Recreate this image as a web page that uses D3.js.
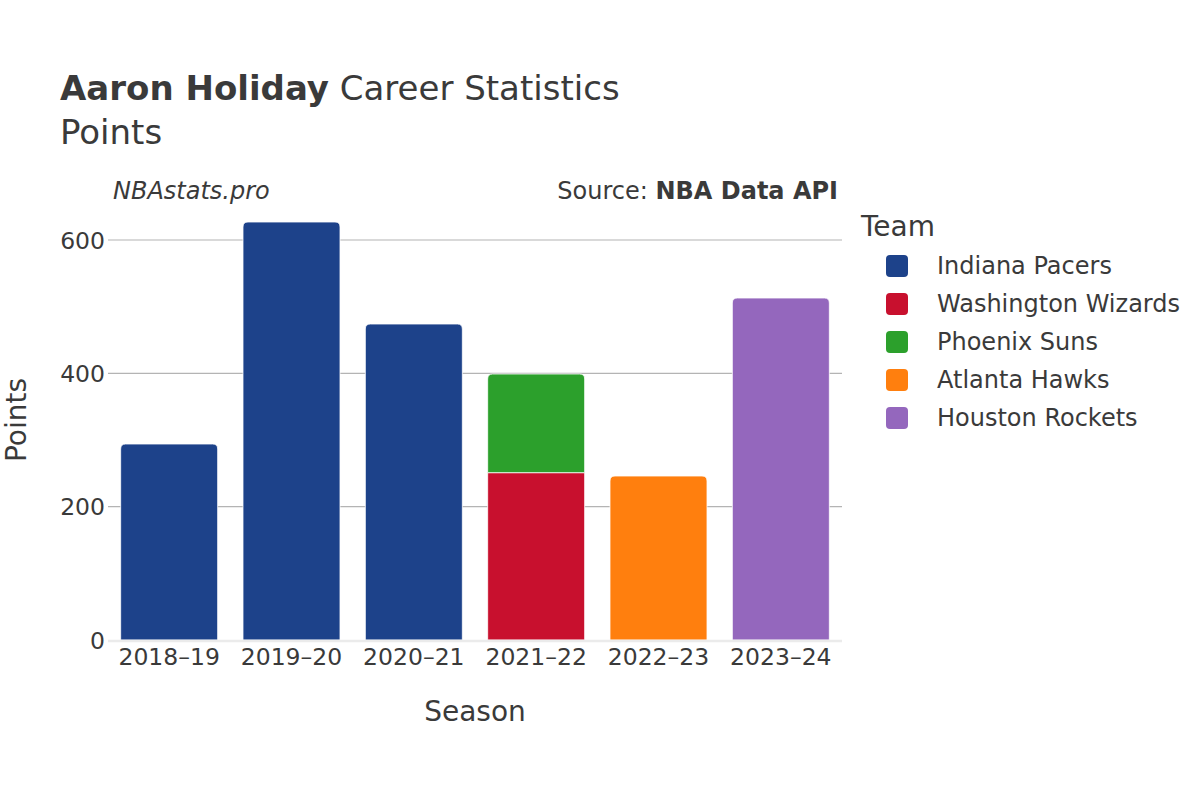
<!DOCTYPE html>
<html><head><meta charset="utf-8">
<script src="https://cdn.jsdelivr.net/npm/d3@7"></script>
<style>body{margin:0;background:#fff}svg{font-family:"DejaVu Sans",sans-serif}</style>
</head><body>
<svg id="c" width="1200" height="800"></svg>
<script>
const seasons = ["2018–19","2019–20","2020–21","2021–22","2022–23","2023–24"];
const teams = ["Indiana Pacers","Washington Wizards","Phoenix Suns","Atlanta Hawks","Houston Rockets"];
const teamColors = ["#1d428a","#c8102e","#2ca02c","#ff7f0e","#9467bd"];
const indianaPts = [294, 627, 474, 0, 0, 0];
const washingtonPts = [0, 0, 0, 251, 0, 0];
const phoenixPts = [0, 0, 0, 148, 0, 0];
const atlantaPts = [0, 0, 0, 0, 246, 0];
const houstonPts = [0, 0, 0, 0, 0, 513];
const yTicks = [0, 200, 400, 600];

const seriesVals = [indianaPts, washingtonPts, phoenixPts, atlantaPts, houstonPts];
const rows = seasons.map((s, i) => { const r = {season: s}; teams.forEach((t, j) => r[t] = seriesVals[j][i]); return r; });
const stack = d3.stack().keys(teams)(rows);

const svg = d3.select("#c");
const m = {l: 108, r: 842, t: 200, b: 640};
const x = d3.scaleBand().domain(seasons).range([m.l, m.r]).paddingInner(0.207).paddingOuter(0.1035);
const y = d3.scaleLinear().domain([0, 600]).range([m.b, 240]);
const txt = "#3a3a3a";

// gridlines
svg.append("g").selectAll("line").data(yTicks.filter(d => d > 0)).join("line")
  .attr("x1", m.l).attr("x2", m.r).attr("y1", d => y(d)).attr("y2", d => y(d))
  .attr("stroke", "#b4b4b4").attr("stroke-width", 1.2);

// bars
const color = d3.scaleOrdinal().domain(teams).range(teamColors);
function topIndex(i) { let k = -1; stack.forEach((s, j) => { if (s[i][1] - s[i][0] > 0) k = j; }); return k; }
const rr = 5;
stack.forEach((s, j) => {
  svg.append("g").selectAll("path").data(s.map((d, i) => ({d, i})).filter(o => o.d[1] - o.d[0] > 0)).join("path")
    .attr("fill", color(teams[j])).attr("stroke", "#fff").attr("stroke-width", 0.8)
    .attr("d", o => {
      const x0 = x(seasons[o.i]), w = x.bandwidth(), y0 = y(o.d[0]), y1 = y(o.d[1]);
      const r = topIndex(o.i) === j ? rr : 0;
      return `M${x0},${y0}V${y1 + r}Q${x0},${y1} ${x0 + r},${y1}H${x0 + w - r}Q${x0 + w},${y1} ${x0 + w},${y1 + r}V${y0}Z`;
    });
});

// zero line
svg.append("line").attr("x1", m.l).attr("x2", m.r).attr("y1", y(0) + 1).attr("y2", y(0) + 1)
  .attr("stroke", "#ebebeb").attr("stroke-width", 2.5);

// y axis
const ya = svg.append("g").attr("transform", `translate(${m.l - 3},0)`)
  .call(d3.axisLeft(y).tickValues(yTicks).tickSize(0).tickPadding(0));
ya.select(".domain").remove();
ya.selectAll("text").attr("font-size", 23.5).attr("fill", txt).attr("font-family", "DejaVu Sans").attr("dy", "0.35em");

// x axis
const xa = svg.append("g").attr("transform", `translate(0,${m.b})`)
  .call(d3.axisBottom(x).tickSize(0).tickPadding(8));
xa.select(".domain").remove();
xa.selectAll("text").attr("font-size", 23.5).attr("fill", txt).attr("font-family", "DejaVu Sans").attr("dy", "0.71em");

// titles
const t = svg.append("text").attr("x", 60).attr("y", 100).attr("font-size", 34).attr("fill", txt);
t.append("tspan").attr("font-weight", "bold").text("Aaron Holiday");
t.append("tspan").text(" Career Statistics");
svg.append("text").attr("x", 60).attr("y", 144).attr("font-size", 34).attr("fill", txt).text("Points");

svg.append("text").attr("x", 113).attr("y", 199).attr("font-size", 24).attr("font-style", "italic").attr("fill", txt).text("NBAstats.pro");
const src = svg.append("text").attr("x", 838).attr("y", 199).attr("font-size", 24).attr("text-anchor", "end").attr("fill", txt);
src.append("tspan").text("Source: ");
src.append("tspan").attr("font-weight", "bold").text("NBA Data API");

svg.append("text").attr("x", 475).attr("y", 721).attr("font-size", 28).attr("text-anchor", "middle").attr("fill", txt).text("Season");
svg.append("text").attr("transform", "translate(26,420) rotate(-90)").attr("font-size", 28).attr("text-anchor", "middle").attr("fill", txt).text("Points");

// legend
svg.append("text").attr("x", 861).attr("y", 236).attr("font-size", 28).attr("fill", txt).text("Team");
const lg = svg.append("g").selectAll("g").data(teams).join("g").attr("transform", (d, i) => `translate(0,${266 + i * 38})`);
lg.append("rect").attr("x", 886).attr("y", -11).attr("width", 22).attr("height", 22).attr("rx", 4).attr("fill", d => color(d));
lg.append("text").attr("x", 937).attr("y", 0).attr("dy", "0.35em").attr("font-size", 24).attr("fill", txt).text(d => d);
</script>
</body></html>
